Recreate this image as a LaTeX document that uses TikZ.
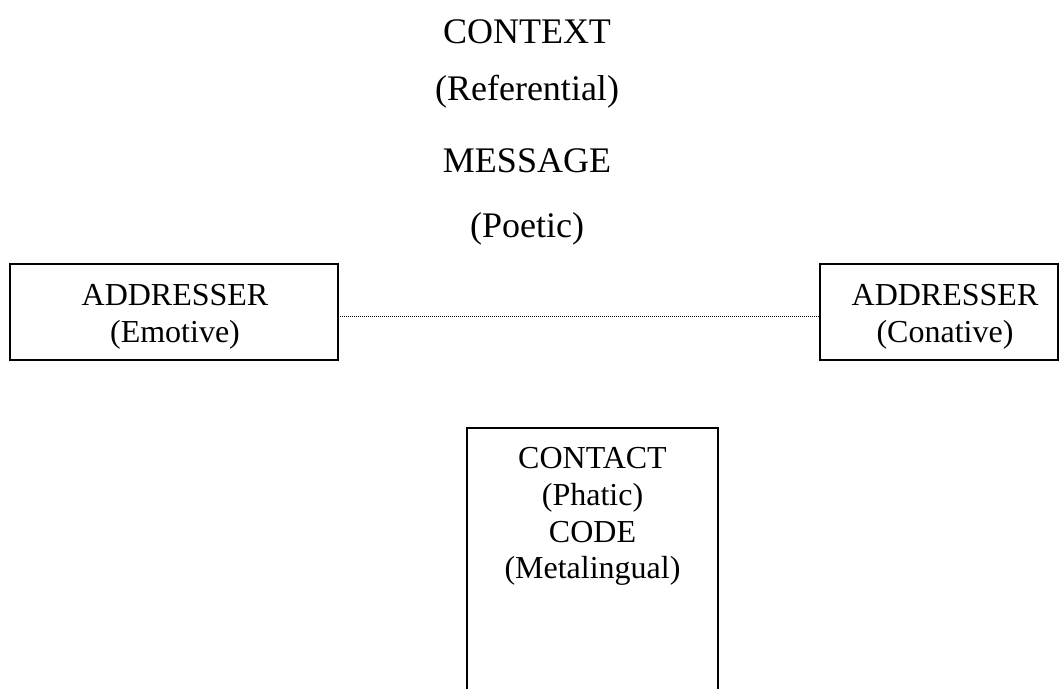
\documentclass[tikz,border=0pt]{standalone}
\usepackage{fontspec}
\setmainfont{Liberation Serif}
\begin{document}
\begin{tikzpicture}[x=1pt,y=-1pt,
  title/.style={font=\fontsize{36}{40}\selectfont, anchor=base, inner sep=0pt},
  label/.style={font=\fontsize{32}{37}\selectfont, anchor=base, inner sep=0pt},
  frame/.style={draw, line width=1.3pt, inner sep=0pt, outer sep=0pt},
  link/.style={line width=0.8pt, dash pattern=on 0.8pt off 1.2pt}]
\useasboundingbox (0,0) rectangle (1059,688);
\clip (0,0) rectangle (1059,688);

% heading column
\node[title] (ctx) at (527,43)  {CONTEXT};
\node[title] (ref) at (527,100) {(Referential)};
\node[title] (msg) at (527,172) {MESSAGE};
\node[title] (poe) at (527,237) {(Poetic)};

% frames
\node[frame, minimum width=328pt, minimum height=96pt] (emo) at (174,312) {};
\node[frame, minimum width=238pt, minimum height=96pt] (con) at (939,312) {};
\node[frame, minimum width=251pt, minimum height=300pt] (cod) at (592.5,578) {};

% frame texts
\node[label] (emoA) at (175,305) {ADDRESSER};
\node[label] (emoB) at (175,342) {(Emotive)};
\node[label] (conA) at (945,305) {ADDRESSER};
\node[label] (conB) at (945,342) {(Conative)};
\node[label] (codA) at (592.5,468) {CONTACT};
\node[label] (codB) at (592.5,505) {(Phatic)};
\node[label] (codC) at (592.5,542) {CODE};
\node[label] (codD) at (592.5,578) {(Metalingual)};

% dotted link between the addressers
\draw[link] ([yshift=-4pt]emo.east) -- ([yshift=-4pt]con.west);
\end{tikzpicture}
\end{document}
